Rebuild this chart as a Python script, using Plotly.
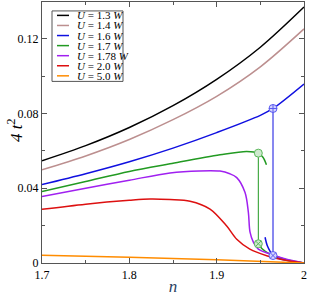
import plotly.graph_objects as go

# ---- data ----
u_labels = ["1.3", "1.4", "1.6", "1.7", "1.78", "2.0", "5.0"]
colors = ["#000000", "#bc8f8f", "#1010e0", "#229a22", "#a020f0", "#dd1010", "#ff8c00"]

n_u13 = [1.70, 1.75, 1.80, 1.85, 1.90, 1.95, 2.00]
t_u13 = [0.0547, 0.0628, 0.0725, 0.0842, 0.0983, 0.1155, 0.1370]

n_u14 = [1.70, 1.75, 1.80, 1.85, 1.90, 1.95, 2.00]
t_u14 = [0.0499, 0.0573, 0.0661, 0.0767, 0.0892, 0.1050, 0.1253]

n_u16 = [1.70, 1.75, 1.80, 1.85, 1.90, 1.95, 1.9645, 2.00]
t_u16 = [0.0420, 0.0478, 0.0542, 0.0615, 0.0698, 0.0790, 0.0827, 0.0958]
n_u16_low = [1.9554, 1.958, 1.9615, 1.9645, 1.970, 1.980, 1.990, 2.000]
t_u16_low = [0.0138, 0.0092, 0.0060, 0.0040, 0.0027, 0.0014, 0.0006, 0.0]

n_u17 = [1.70, 1.75, 1.80, 1.8466, 1.9038, 1.9344, 1.9477, 1.953, 1.957]
t_u17 = [0.0382, 0.0436, 0.0490, 0.0531, 0.0579, 0.0597, 0.0588, 0.0566, 0.0526]
n_u17_low = [1.9465, 1.9477, 1.952, 1.960, 1.970, 1.980, 1.990, 2.000]
t_u17_low = [0.0118, 0.0103, 0.0076, 0.0050, 0.0032, 0.0018, 0.0008, 0.0]

n_u178 = [1.70, 1.75, 1.80, 1.8466, 1.88, 1.9038, 1.915, 1.923, 1.9325, 1.9363,
          1.9382, 1.942, 1.9477, 1.961, 1.98, 2.00]
t_u178 = [0.0356, 0.0400, 0.0443, 0.0482, 0.0493, 0.0492, 0.0478, 0.0457, 0.0377, 0.0271,
          0.0165, 0.0112, 0.0074, 0.0048, 0.0020, 0.0]

n_u20 = [1.70, 1.75, 1.80, 1.8237, 1.8466, 1.8695, 1.8924, 1.9115, 1.923, 1.938,
         1.9573, 1.976, 2.00]
t_u20 = [0.0287, 0.0315, 0.0336, 0.0343, 0.0340, 0.0331, 0.0289, 0.0198, 0.0127, 0.0074,
         0.0039, 0.0018, 0.0]

n_u50 = [1.70, 1.80, 1.90, 2.00]
t_u50 = [0.0042, 0.0031, 0.0017, 0.0]

# jump (transition) points for U = 1.7 W and U = 1.6 W
jump_n = [1.9477, 1.9645]
jump_upper = [0.0588, 0.0827]
jump_lower = [0.0103, 0.0040]

x_ticks = [1.7, 1.8, 1.9, 2.0]
x_ticklabels = ["1.7", "1.8", "1.9", "2"]
y_ticks = [0.0, 0.04, 0.08, 0.12]
y_ticklabels = ["0", "0.04", "0.08", "0.12"]

# ---- figure ----
fig = go.Figure()
LW = 1.5
serif = "Liberation Serif, Times New Roman, serif"

curves = [
    (n_u13, t_u13, 0), (n_u14, t_u14, 1), (n_u16, t_u16, 2), (n_u16_low, t_u16_low, 2),
    (n_u17, t_u17, 3), (n_u17_low, t_u17_low, 3), (n_u178, t_u178, 4),
    (n_u20, t_u20, 5), (n_u50, t_u50, 6),
]
for xs, ys, ci in curves:
    fig.add_trace(go.Scatter(x=xs, y=ys, mode="lines",
                             line=dict(color=colors[ci], width=LW, shape="spline", smoothing=0.9),
                             showlegend=False, hoverinfo="skip"))

# vertical connectors
jump_colors = [colors[3], colors[2]]
for i in range(2):
    fig.add_trace(go.Scatter(x=[jump_n[i], jump_n[i]], y=[jump_upper[i], jump_lower[i]],
                             mode="lines", line=dict(color=jump_colors[i], width=1),
                             showlegend=False, hoverinfo="skip"))

# markers
fig.add_trace(go.Scatter(x=[jump_n[0]], y=[jump_upper[0]], mode="markers",
                         marker=dict(symbol="circle", size=8, color="#cfe9cf",
                                     line=dict(color="#5cb85c", width=1)),
                         showlegend=False, hoverinfo="skip"))
fig.add_trace(go.Scatter(x=[jump_n[0]], y=[jump_lower[0]], mode="markers",
                         marker=dict(symbol="circle-x", size=8, color="#cfe9cf",
                                     line=dict(color="#5cb85c", width=1)),
                         showlegend=False, hoverinfo="skip"))
fig.add_trace(go.Scatter(x=[jump_n[1]], y=[jump_upper[1]], mode="markers",
                         marker=dict(symbol="circle-cross", size=8, color="#d4d4ff",
                                     line=dict(color="#5a5af0", width=1)),
                         showlegend=False, hoverinfo="skip"))
fig.add_trace(go.Scatter(x=[jump_n[1]], y=[jump_lower[1]], mode="markers",
                         marker=dict(symbol="circle-x", size=8, color="#d4d4ff",
                                     line=dict(color="#5a5af0", width=1)),
                         showlegend=False, hoverinfo="skip"))

axis_common = dict(
    showline=True, linecolor="#555555", linewidth=1.3, mirror="ticks",
    ticks="inside", ticklen=5, tickwidth=1, tickcolor="#555555",
    showgrid=False, zeroline=False,
    tickfont=dict(family=serif, size=12, color="#000000"),
)

fig.update_xaxes(range=[1.7, 2.0], tickvals=x_ticks, ticktext=x_ticklabels,
                 minor=dict(dtick=0.05, ticks="inside", ticklen=3, tickcolor="#555555", showgrid=False),
                 title=dict(text="<i>n</i>", font=dict(family=serif, size=17), standoff=2),
                 **axis_common)
fig.update_yaxes(range=[0.0, 0.1397], tickvals=y_ticks, ticktext=y_ticklabels,
                 minor=dict(dtick=0.02, ticks="inside", ticklen=3, tickcolor="#555555", showgrid=False),
                 **axis_common)

# ---- manual legend / y title ----
L, R, T, B = 42, 304, 1, 264
W, H = R - L, B - T
def px(x):
    return (x - L) / W
def py(y):
    return (B - y) / H

fig.add_annotation(xref="paper", yref="paper", x=px(15), y=py(131),
                   xanchor="center", yanchor="middle", showarrow=False, textangle=-90,
                   text="<i>4 t</i><sup>2</sup>",
                   font=dict(family=serif, size=17, color="#000000"))

fig.add_shape(type="rect", xref="paper", yref="paper",
              x0=px(52), x1=px(123), y0=py(81), y1=py(10),
              line=dict(color="#555555", width=1), fillcolor="white", layer="above")
for i, (lab, c) in enumerate(zip(u_labels, colors)):
    yy = 14.5 + 10.15 * i
    fig.add_shape(type="line", xref="paper", yref="paper",
                  x0=px(57), x1=px(69), y0=py(yy), y1=py(yy),
                  line=dict(color=c, width=LW), layer="above")
    fig.add_annotation(xref="paper", yref="paper", x=px(76), y=py(yy),
                       xanchor="left", yanchor="middle", showarrow=False,
                       height=10, borderpad=0,
                       text=f"<i>U</i> = {lab} <i>W</i>",
                       font=dict(family=serif, size=11, color="#000000"))

fig.update_layout(
    width=311, height=296,
    margin=dict(l=L, r=311 - R, t=T, b=296 - B),
    paper_bgcolor="white", plot_bgcolor="white",
    showlegend=False,
)

fig.write_html("out.html", config={"displayModeBar": False},
               post_script="document.body.style.margin='0';document.body.style.padding='0';")
